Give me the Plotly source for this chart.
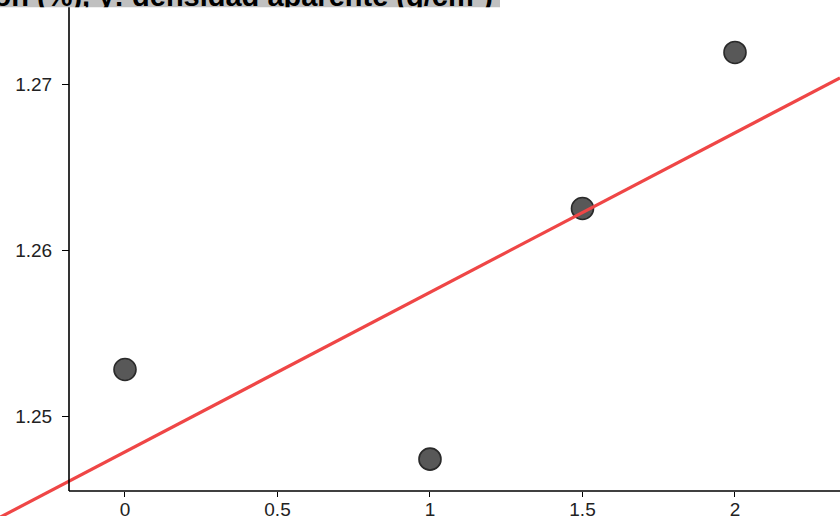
import numpy as np
import plotly.graph_objects as go

# Data
concentracion = [0, 1, 1.5, 2]
densidad = [1.2528, 1.2474, 1.2625, 1.2719]
x_ticks = [0, 0.5, 1, 1.5, 2]
x_tick_labels = ["0", "0.5", "1", "1.5", "2"]
y_ticks = [1.25, 1.26, 1.27]
y_tick_labels = ["1.25", "1.26", "1.27"]
title_text = "Regresión lineal, x: concentración (%), y: densidad aparente (g/cm³)"

W, H = 840, 516
x_range = [-0.4098, 2.3443]
y_range = [1.243976, 1.275060]
x_axis_pos = 25 / H      # paper fraction from bottom where the x axis sits
y_axis_pos = 69 / W      # paper fraction from left where the y axis sits
band_w, band_h = 500, 7.3

slope, intercept = np.polyfit(concentracion, densidad, 1)
line_x = np.array(x_range)
line_y = slope * line_x + intercept

fig = go.Figure()
fig.add_trace(go.Scatter(
    x=concentracion, y=densidad, mode="markers",
    marker=dict(size=22, color="#585858", line=dict(color="#2a2a2a", width=1.6)),
    showlegend=False, hoverinfo="skip",
))
fig.add_trace(go.Scatter(
    x=line_x, y=line_y, mode="lines",
    line=dict(color="#ef4646", width=3.2),
    showlegend=False, hoverinfo="skip",
))
# cut-off heading, clipped to the grey band
fig.add_trace(go.Scatter(
    x=[493], y=[-5.5], mode="text", text=["<b>" + title_text + "</b>"],
    textposition="top left", cliponaxis=True,
    textfont=dict(family="Liberation Sans, Arial, sans-serif", size=29, color="#000000"),
    xaxis="x2", yaxis="y2", showlegend=False, hoverinfo="skip",
))

tick_font = dict(family="Liberation Sans, Arial, sans-serif", size=19, color="#222222")
fig.update_layout(
    template="none",
    width=W, height=H, autosize=False,
    margin=dict(l=0, r=0, t=0, b=0, pad=0),
    paper_bgcolor="white", plot_bgcolor="rgba(0,0,0,0)",
    xaxis=dict(range=x_range, domain=[0, 1], anchor="free", position=x_axis_pos,
               automargin=False,
               showgrid=False, zeroline=False, showline=False,
               tickvals=x_ticks, ticktext=x_tick_labels,
               ticks="outside", ticklen=5, tickwidth=1.2, tickcolor="#000000",
               ticklabelstandoff=-4, tickfont=tick_font),
    yaxis=dict(range=y_range, domain=[0, 1], anchor="free", position=y_axis_pos,
               automargin=False,
               showgrid=False, zeroline=False, showline=False,
               tickvals=y_ticks, ticktext=y_tick_labels,
               ticks="outside", ticklen=7, tickwidth=1.2, tickcolor="#000000",
               ticklabelstandoff=6, tickfont=tick_font),
    xaxis2=dict(range=[0, band_w], domain=[0, band_w / W], anchor="y2",
                visible=False, fixedrange=True, automargin=False),
    yaxis2=dict(range=[0, band_h], domain=[1 - band_h / H, 1], anchor="x2",
                visible=False, fixedrange=True, automargin=False),
    shapes=[
        dict(type="rect", xref="paper", yref="paper",
             x0=0, x1=band_w / W, y0=1 - band_h / H, y1=1,
             fillcolor="#c0c0c0", line=dict(width=0), layer="below"),
        dict(type="line", xref="paper", yref="paper",
             x0=y_axis_pos, x1=1, y0=x_axis_pos, y1=x_axis_pos,
             line=dict(color="#000000", width=1.6), layer="above"),
        dict(type="line", xref="paper", yref="paper",
             x0=y_axis_pos, x1=y_axis_pos, y0=x_axis_pos, y1=1 - band_h / H,
             line=dict(color="#000000", width=1.6), layer="above"),
    ],
)

fig.write_html("out.html", config={"displayModeBar": False},
               post_script="document.body.style.margin='0';")
